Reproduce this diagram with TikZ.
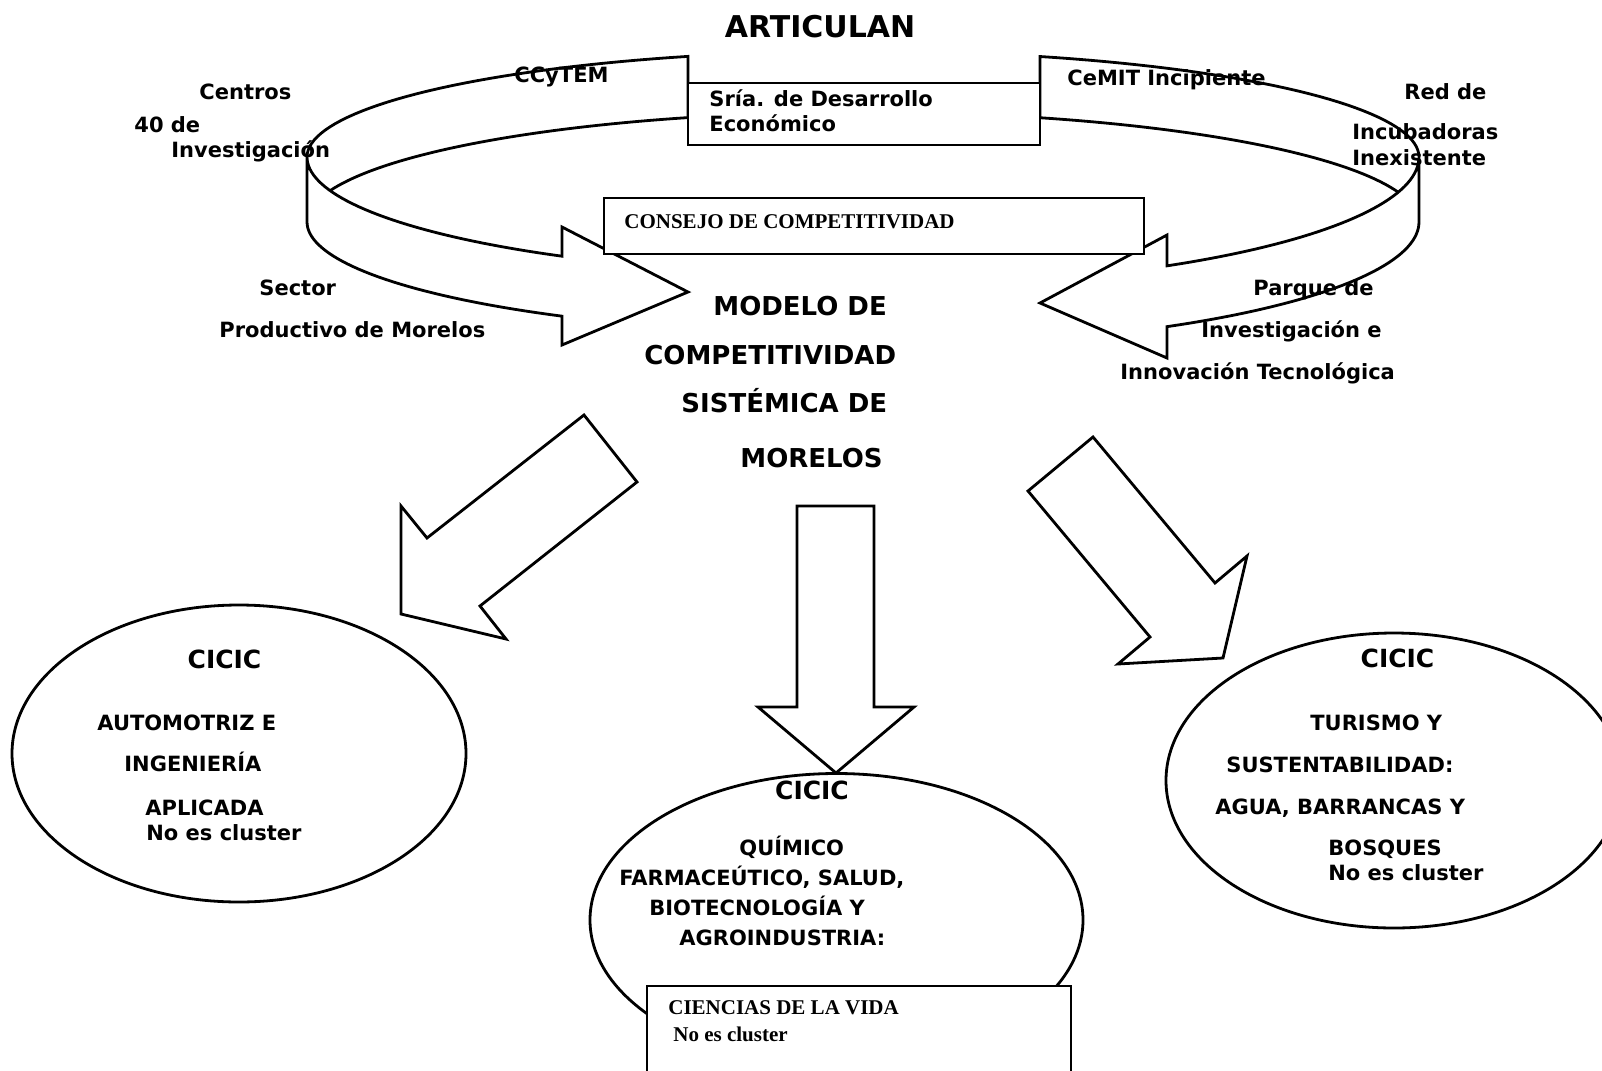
\documentclass[tikz,border=0pt]{standalone}
\usepackage{fontspec}
\setmainfont{DejaVu Sans}
\newfontfamily\tmsfont{Liberation Serif}
\usetikzlibrary{shapes.geometric}
\begin{document}
\begin{tikzpicture}[x=1pt,y=-1pt, line width=2.8pt,
  lbl/.style={anchor=west, inner sep=0pt, font=\bfseries\fontsize{21}{25}\selectfont, text height=15.3pt, text depth=0pt},
  bigt/.style={anchor=west, inner sep=0pt, font=\bfseries\fontsize{26}{30}\selectfont, text height=19pt, text depth=0pt},
  cict/.style={inner sep=0pt, font=\bfseries\fontsize{25}{30}\selectfont, text height=18.2pt, text depth=0pt},
  titlet/.style={inner sep=0pt, font=\bfseries\fontsize{30}{34}\selectfont, text height=21.9pt, text depth=0pt},
  tms/.style={anchor=west, inner sep=0pt, font=\tmsfont\bfseries\fontsize{21}{25}\selectfont, text height=13.9pt, text depth=0pt},
  boxn/.style={draw, fill=white, rectangle, inner sep=0pt},
  ell/.style={draw, ellipse, inner sep=0pt},
  bigarrow/.style={draw, fill=white}]
\path[use as bounding box, fill=white] (0,0) rectangle (1602,1070);
\clip (0,0) rectangle (1602,1070);

% left half of the ribbon
\draw plot[domain=180:122.78, samples=40] ({863+556*cos(\x)},{157+118*sin(\x)})
  -- (562,227) -- (688,292) -- (562,345)
  -- plot[domain=122.78:180, samples=40] ({863+556*cos(\x)},{222+112*sin(\x)})
  -- plot[domain=180:251.65, samples=40] ({863+556*cos(\x)},{157+106*sin(\x)})
  -- (688,118);
\draw plot[domain=251.65:196.56, samples=40] ({863+556*cos(\x)},{222+110*sin(\x)});

% right half of the ribbon
\draw plot[domain=0:56.85, samples=40] ({863+556*cos(\x)},{157+130*sin(\x)})
  -- (1167,235) -- (1040,303) -- (1167,358)
  -- plot[domain=56.85:0, samples=40] ({863+556*cos(\x)},{222+125*sin(\x)})
  -- plot[domain=360:288.56, samples=40] ({863+556*cos(\x)},{157+106*sin(\x)})
  -- (1040,118);
\draw plot[domain=288.56:344.29, samples=40] ({863+556*cos(\x)},{222+110*sin(\x)});

% boxes
\node[boxn, minimum width=352pt, minimum height=62pt] (sria) at (864,114) {};
\node[boxn, minimum width=540pt, minimum height=56pt] (consejo) at (874,226) {};

% block arrows
\draw[bigarrow] (584,415) -- (637,482) -- (480,606) -- (506,639) -- (401,614) -- (401,506) -- (427,538) -- cycle;
\draw[bigarrow] (797,506) -- (874,506) -- (874,707) -- (914,707) -- (836,773) -- (758,707) -- (797,707) -- cycle;
\draw[bigarrow] (1093,437) -- (1215,583) -- (1247,556) -- (1223,658) -- (1118,664) -- (1150,637) -- (1028,491) -- cycle;

% ellipses
\node[ell, minimum width=454pt, minimum height=297pt] (eleft) at (239,753.5) {};
\node[ell, minimum width=456pt, minimum height=295pt] (eright) at (1394,780.5) {};
\node[ell, minimum width=493pt, minimum height=293pt] (emid) at (836.5,920) {};
\node[boxn, minimum width=424pt, minimum height=104pt] (vida) at (859,1038) {};

% texts top
\node[titlet] (tart) at (820,27) {ARTICULAN};
\node[lbl] (tccy) at (513,75) {CCyTEM};
\node[lbl] (tsria1) at (708,99) {Sría. de Desarrollo};
\node[lbl] (tsria2) at (708,124) {Económico};
\node[lbl] (tcemit) at (1066,78) {CeMIT Incipiente};
\node[lbl] (tcen1) at (198,92) {Centros};
\node[lbl] (tcen2) at (133,125) {40 de};
\node[lbl] (tcen3) at (170,150) {Investigación};
\node[lbl] (tred1) at (1403,92) {Red de};
\node[lbl] (tred2) at (1351,132) {Incubadoras};
\node[lbl] (tred3) at (1351,158) {Inexistente};
\node[tms] (tcons) at (623,222) {CONSEJO DE COMPETITIVIDAD};
\node[lbl] (tsec1) at (258,288) {Sector};
\node[lbl] (tsec2) at (218,330) {Productivo de Morelos};
\node[lbl] (tpar1) at (1252,288) {Parque de};
\node[lbl] (tpar2) at (1200,330) {Investigación e};
\node[lbl] (tpar3) at (1119,372) {Innovación Tecnológica};
\node[bigt] (tmod1) at (712,306) {MODELO DE};
\node[bigt] (tmod2) at (643,354.5) {COMPETITIVIDAD};
\node[bigt] (tmod3) at (680,402.5) {SISTÉMICA DE};
\node[bigt] (tmod4) at (739,458) {MORELOS};

% left ellipse text
\node[cict] (cl) at (224.5,659) {CICIC};
\node[lbl] (tl1) at (96,723) {AUTOMOTRIZ E};
\node[lbl] (tl2) at (123,764) {INGENIERÍA};
\node[lbl] (tl3) at (144,808) {APLICADA};
\node[lbl] (tl4) at (145,833) {No es cluster};

% middle ellipse text
\node[cict] (cm) at (812,790) {CICIC};
\node[lbl] (tm1) at (738,848) {QUÍMICO};
\node[lbl] (tm2) at (618,878) {FARMACEÚTICO, SALUD,};
\node[lbl] (tm3) at (648,908) {BIOTECNOLOGÍA Y};
\node[lbl] (tm4) at (678,938) {AGROINDUSTRIA:};
\node[tms] (tv1) at (667,1008) {CIENCIAS DE LA VIDA};
\node[tms] (tv2) at (672,1035) {No es cluster};

% right ellipse text
\node[cict] (cr) at (1397.5,658) {CICIC};
\node[lbl] (tr1) at (1309,723) {TURISMO Y};
\node[lbl] (tr2) at (1225,765) {SUSTENTABILIDAD:};
\node[lbl] (tr3) at (1214,807) {AGUA, BARRANCAS Y};
\node[lbl] (tr4) at (1327,848) {BOSQUES};
\node[lbl] (tr5) at (1327,873) {No es cluster};
\end{tikzpicture}
\end{document}
